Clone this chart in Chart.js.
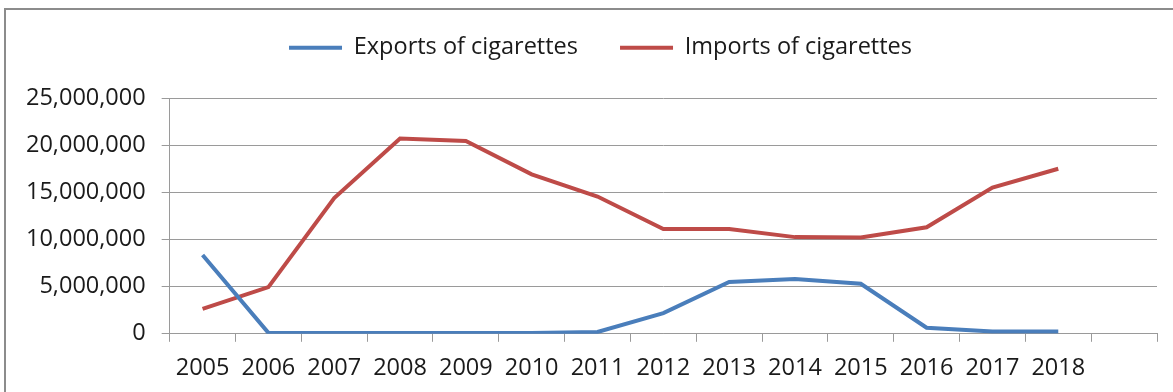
<!DOCTYPE html>
<html>
<head>
<meta charset="utf-8">
<script src="https://cdn.jsdelivr.net/npm/chart.js@4.4.1/dist/chart.umd.min.js"></script>
<style>
  html, body { margin: 0; padding: 0; background: #fff; overflow: hidden; }
  #frame { position: absolute; left: 4px; top: 8px; width: 1200px; height: 420px; border: 2px solid #8c8c8c; box-sizing: border-box; }
  #wrap { position: absolute; left: 0; top: 0; width: 1173px; height: 392px; }
</style>
</head>
<body>
<div id="frame"></div>
<div id="wrap"><canvas id="chart"></canvas></div>
<script>
const years = ['2005', '2006', '2007', '2008', '2009', '2010', '2011', '2012', '2013', '2014', '2015', '2016', '2017', '2018', ''];
const exportsCig = [8350000, 100000, 80000, 80000, 80000, 80000, 200000, 2200000, 5500000, 5800000, 5300000, 650000, 250000, 250000, null];
const importsCig = [2650000, 4950000, 14400000, 20700000, 20450000, 16900000, 14550000, 11100000, 11100000, 10250000, 10200000, 11300000, 15500000, 17500000, null];
const yTicks = [0, 5000000, 10000000, 15000000, 20000000, 25000000];

Chart.defaults.font.family = "'Open Sans', sans-serif";
Chart.defaults.color = '#1a1a1a';

const gridGray = '#9a9a9a';
const LEGEND_H = 104;
const LEGEND_SHIFT = 17;

// legend box taller so the plot starts lower, and nudged right like the original
const legendTweak = {
  id: 'legendTweak',
  beforeLayout(chart) {
    const lg = chart.legend;
    if (lg && !lg._patched) {
      const fit = lg.fit.bind(lg);
      lg.fit = function () { fit(); this.height = LEGEND_H; };
      lg._patched = true;
    }
  },
  afterLayout(chart) {
    const lg = chart.legend;
    if (lg) { lg.left += LEGEND_SHIFT; lg.right += LEGEND_SHIFT; }
  }
};

new Chart(document.getElementById('chart'), {
  type: 'line',
  data: {
    labels: years,
    datasets: [
      {
        label: 'Exports of cigarettes',
        data: exportsCig,
        borderColor: '#4a7ebb',
        backgroundColor: '#4a7ebb',
        borderWidth: 4,
        pointRadius: 0,
        tension: 0
      },
      {
        label: 'Imports of cigarettes',
        data: importsCig,
        borderColor: '#be4b48',
        backgroundColor: '#be4b48',
        borderWidth: 4,
        pointRadius: 0,
        tension: 0
      }
    ]
  },
  options: {
    responsive: true,
    maintainAspectRatio: false,
    animation: false,
    layout: { padding: { left: 10, right: 16, top: -6, bottom: -2 } },
    plugins: {
      tooltip: { enabled: false },
      legend: {
        position: 'top',
        labels: {
          usePointStyle: true,
          pointStyle: 'line',
          pointStyleWidth: 53,
          boxHeight: 4,
          padding: 42,
          font: { size: 23.5 }
        }
      }
    },
    scales: {
      x: {
        offset: true,
        grid: { offset: true, drawOnChartArea: false, drawTicks: true, tickLength: 8, color: gridGray },
        border: { color: gridGray, width: 1 },
        ticks: { font: { size: 23.5 }, padding: 12, maxRotation: 0, autoSkip: false }
      },
      y: {
        min: 0,
        max: 25000000,
        afterBuildTicks: axis => { axis.ticks = yTicks.map(v => ({ value: v })); },
        grid: { color: gridGray, tickLength: 8, lineWidth: 1 },
        border: { color: gridGray, width: 1 },
        ticks: {
          font: { size: 23.5 },
          padding: 16,
          callback: v => v.toLocaleString('en-US')
        }
      }
    }
  },
  plugins: [legendTweak]
});
</script>
</body>
</html>
